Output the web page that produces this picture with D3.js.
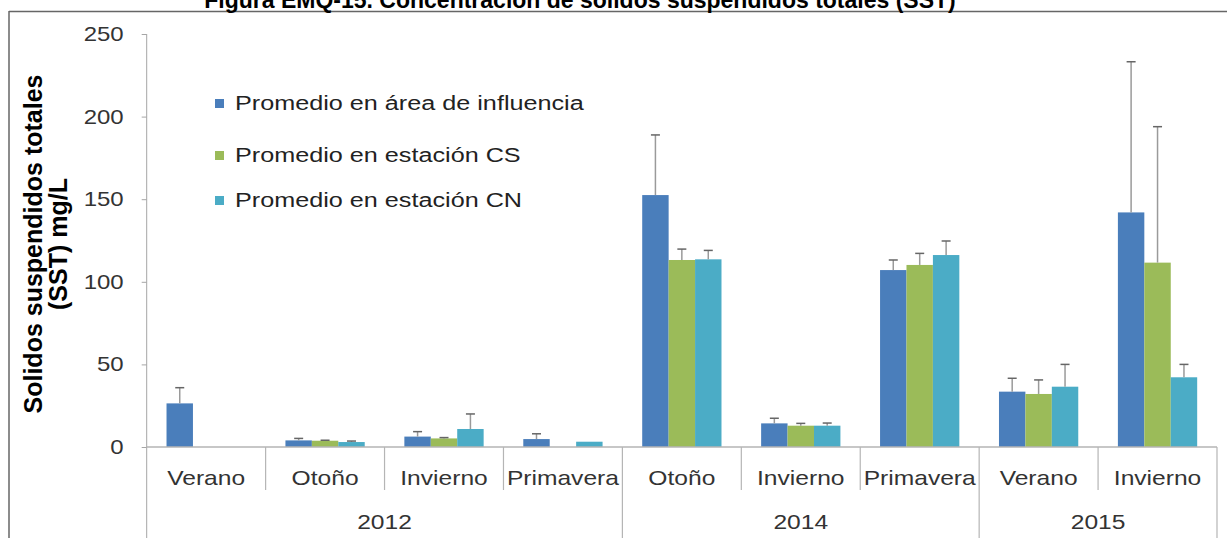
<!DOCTYPE html>
<html>
<head>
    <meta charset="utf-8">
    <title>Sólidos suspendidos totales</title>
    <style>
        body { margin: 0; background: #fff; }
        svg { display: block; font-family: "Liberation Sans", Arial, sans-serif; }
    </style>
</head>
<body>
    <div id="chart"></div>
    <script src="https://d3js.org/d3.v7.min.js"></script>
    <script>
        // datos
        var categories = ["Verano", "Otoño", "Invierno", "Primavera", "Otoño", "Invierno", "Primavera", "Verano", "Invierno"];
        var yearLabels = ["2012", "2014", "2015"];
        var yearSpans = [4, 3, 2];   // número de estaciones por año
        var seriesNames = ["Promedio en área de influencia", "Promedio en estación CS", "Promedio en estación CN"];
        var areaValues = [26.4, 4.0, 6.3, 4.8, 152.5, 14.3, 107.1, 33.5, 142.0];
        var areaErrors = [9.5, 1.2, 3.0, 3.2, 36.4, 3.1, 6.1, 8.1, 91.2];
        var csValues = [0, 3.8, 5.2, 0, 113.2, 12.9, 110.2, 32.1, 111.6];
        var csErrors = [0, 0.3, 0.5, 0, 6.6, 1.4, 7.0, 8.5, 82.3];
        var cnValues = [0, 3.0, 10.9, 3.2, 113.6, 12.9, 116.2, 36.5, 42.2];
        var cnErrors = [0, 0.6, 9.1, 0, 5.4, 1.6, 8.5, 13.5, 7.8];
        var yTicks = [0, 50, 100, 150, 200, 250];

        var colors = ["#4a7ebb", "#9bbb59", "#4bacc6"];
        var width = 1227, height = 538;
        var plotLeft = 146.7, plotRight = 1217, plotTop = 34, plotBottom = 447;
        var stretch = "scale(1.2,1)";   // el texto del gráfico original está estirado a lo ancho

        var svg = d3.select("#chart").append("svg")
            .attr("width", width)
            .attr("height", height);

        // marco
        svg.append("line").attr("x1", 9).attr("x2", width).attr("y1", 11.5).attr("y2", 11.5)
            .attr("stroke", "#666").attr("stroke-width", 1.5);
        svg.append("line").attr("x1", 9).attr("x2", 9).attr("y1", 11).attr("y2", height)
            .attr("stroke", "#666").attr("stroke-width", 1.5);

        // título (cortado arriba como en la imagen)
        svg.append("text")
            .attr("x", 580).attr("y", 8)
            .attr("text-anchor", "middle")
            .attr("font-size", 23).attr("font-weight", "bold")
            .text("Figura EMQ-15. Concentración de solidos suspendidos totales (SST)");

        var idx = d3.range(categories.length);
        var x0 = d3.scaleBand().domain(idx).range([plotLeft, plotRight]).paddingInner(0).paddingOuter(0);
        var x1 = d3.scaleBand().domain([0, 1, 2]).range([0, x0.bandwidth()]).paddingInner(0).paddingOuter(0.75);
        var y = d3.scaleLinear().domain([0, 250]).range([plotBottom, plotTop]);

        var values = [areaValues, csValues, cnValues];
        var errors = [areaErrors, csErrors, cnErrors];

        // eje Y
        var yAxis = svg.append("g")
            .attr("transform", "translate(" + plotLeft + ",0)")
            .call(d3.axisLeft(y).tickValues(yTicks).tickSize(5));
        yAxis.select(".domain").attr("d", "M0," + plotTop + "V" + height).attr("stroke", "#a6a6a6");
        yAxis.selectAll(".tick line").attr("stroke", "#a6a6a6");
        yAxis.selectAll(".tick text").attr("x", null)
            .attr("transform", "translate(-23,0) " + stretch)
            .attr("font-size", 20).attr("fill", "#333")
            .attr("font-family", "Liberation Sans, Arial, sans-serif");

        // barras
        values.forEach(function (vals, s) {
            svg.append("g").selectAll("rect")
                .data(idx.filter(function (i) { return vals[i] > 0; }))
                .enter().append("rect")
                .attr("x", function (i) { return x0(i) + x1(s); })
                .attr("y", function (i) { return y(vals[i]); })
                .attr("width", x1.bandwidth())
                .attr("height", function (i) { return y(0) - y(vals[i]); })
                .attr("fill", colors[s]);
        });

        // barras de error
        values.forEach(function (vals, s) {
            var g = svg.append("g").selectAll("g")
                .data(idx.filter(function (i) { return errors[s][i] > 0; }))
                .enter().append("g");
            var cx = function (i) { return x0(i) + x1(s) + x1.bandwidth() / 2; };
            g.append("line")
                .attr("x1", cx).attr("x2", cx)
                .attr("y1", function (i) { return y(vals[i]); })
                .attr("y2", function (i) { return y(vals[i] + errors[s][i]); })
                .attr("stroke", "#9a9a9a").attr("stroke-width", 1.5);
            g.append("line")
                .attr("x1", function (i) { return cx(i) - 4.5; })
                .attr("x2", function (i) { return cx(i) + 4.5; })
                .attr("y1", function (i) { return y(vals[i] + errors[s][i]); })
                .attr("y2", function (i) { return y(vals[i] + errors[s][i]); })
                .attr("stroke", "#666").attr("stroke-width", 1.5);
        });

        // eje X
        svg.append("line").attr("x1", plotLeft).attr("x2", plotRight).attr("y1", plotBottom).attr("y2", plotBottom)
            .attr("stroke", "#b5b5b5").attr("stroke-width", 1.5);

        // separadores de estaciones y años
        var yearEdges = [0];
        yearSpans.forEach(function (n, k) { yearEdges.push(yearEdges[k] + n); });
        d3.range(1, categories.length + 1).forEach(function (i) {
            var xe = i < categories.length ? x0(i) : plotRight;
            var isYear = yearEdges.indexOf(i) >= 0;
            svg.append("line").attr("x1", xe).attr("x2", xe)
                .attr("y1", plotBottom).attr("y2", isYear ? height : 490)
                .attr("stroke", "#b5b5b5").attr("stroke-width", 1.2);
        });

        svg.append("g").selectAll("text")
            .data(idx).enter().append("text")
            .attr("transform", function (i) {
                return "translate(" + (x0(i) + x0.bandwidth() / 2) + ",485) " + stretch;
            })
            .attr("text-anchor", "middle")
            .attr("font-size", 20.5).attr("fill", "#333")
            .text(function (i) { return categories[i]; });

        svg.append("g").selectAll("text")
            .data(yearLabels).enter().append("text")
            .attr("transform", function (d, k) {
                var a = x0(yearEdges[k]);
                var b = yearEdges[k + 1] < categories.length ? x0(yearEdges[k + 1]) : plotRight;
                return "translate(" + ((a + b) / 2) + ",529) " + stretch;
            })
            .attr("text-anchor", "middle")
            .attr("font-size", 20.5).attr("fill", "#333")
            .text(function (d) { return d; });

        // título del eje Y
        var yt = svg.append("text")
            .attr("transform", "translate(33,244) rotate(-90)")
            .attr("text-anchor", "middle")
            .attr("font-size", 25).attr("font-weight", "bold");
        yt.append("tspan").attr("x", 0).attr("dy", 9).text("Solidos suspendidos totales");
        yt.append("tspan").attr("x", 0).attr("dy", 25).text("(SST) mg/L");

        // leyenda
        var legend = svg.append("g").selectAll("g")
            .data(seriesNames).enter().append("g")
            .attr("transform", function (d, i) { return "translate(215," + [103, 155, 200][i] + ")"; });
        legend.append("rect").attr("x", 0).attr("y", -4).attr("width", 9).attr("height", 9)
            .attr("fill", function (d, i) { return colors[i]; });
        legend.append("text").attr("transform", "translate(20,7) " + stretch)
            .attr("font-size", 21).attr("fill", "#222")
            .text(function (d) { return d; });
    </script>
</body>
</html>
